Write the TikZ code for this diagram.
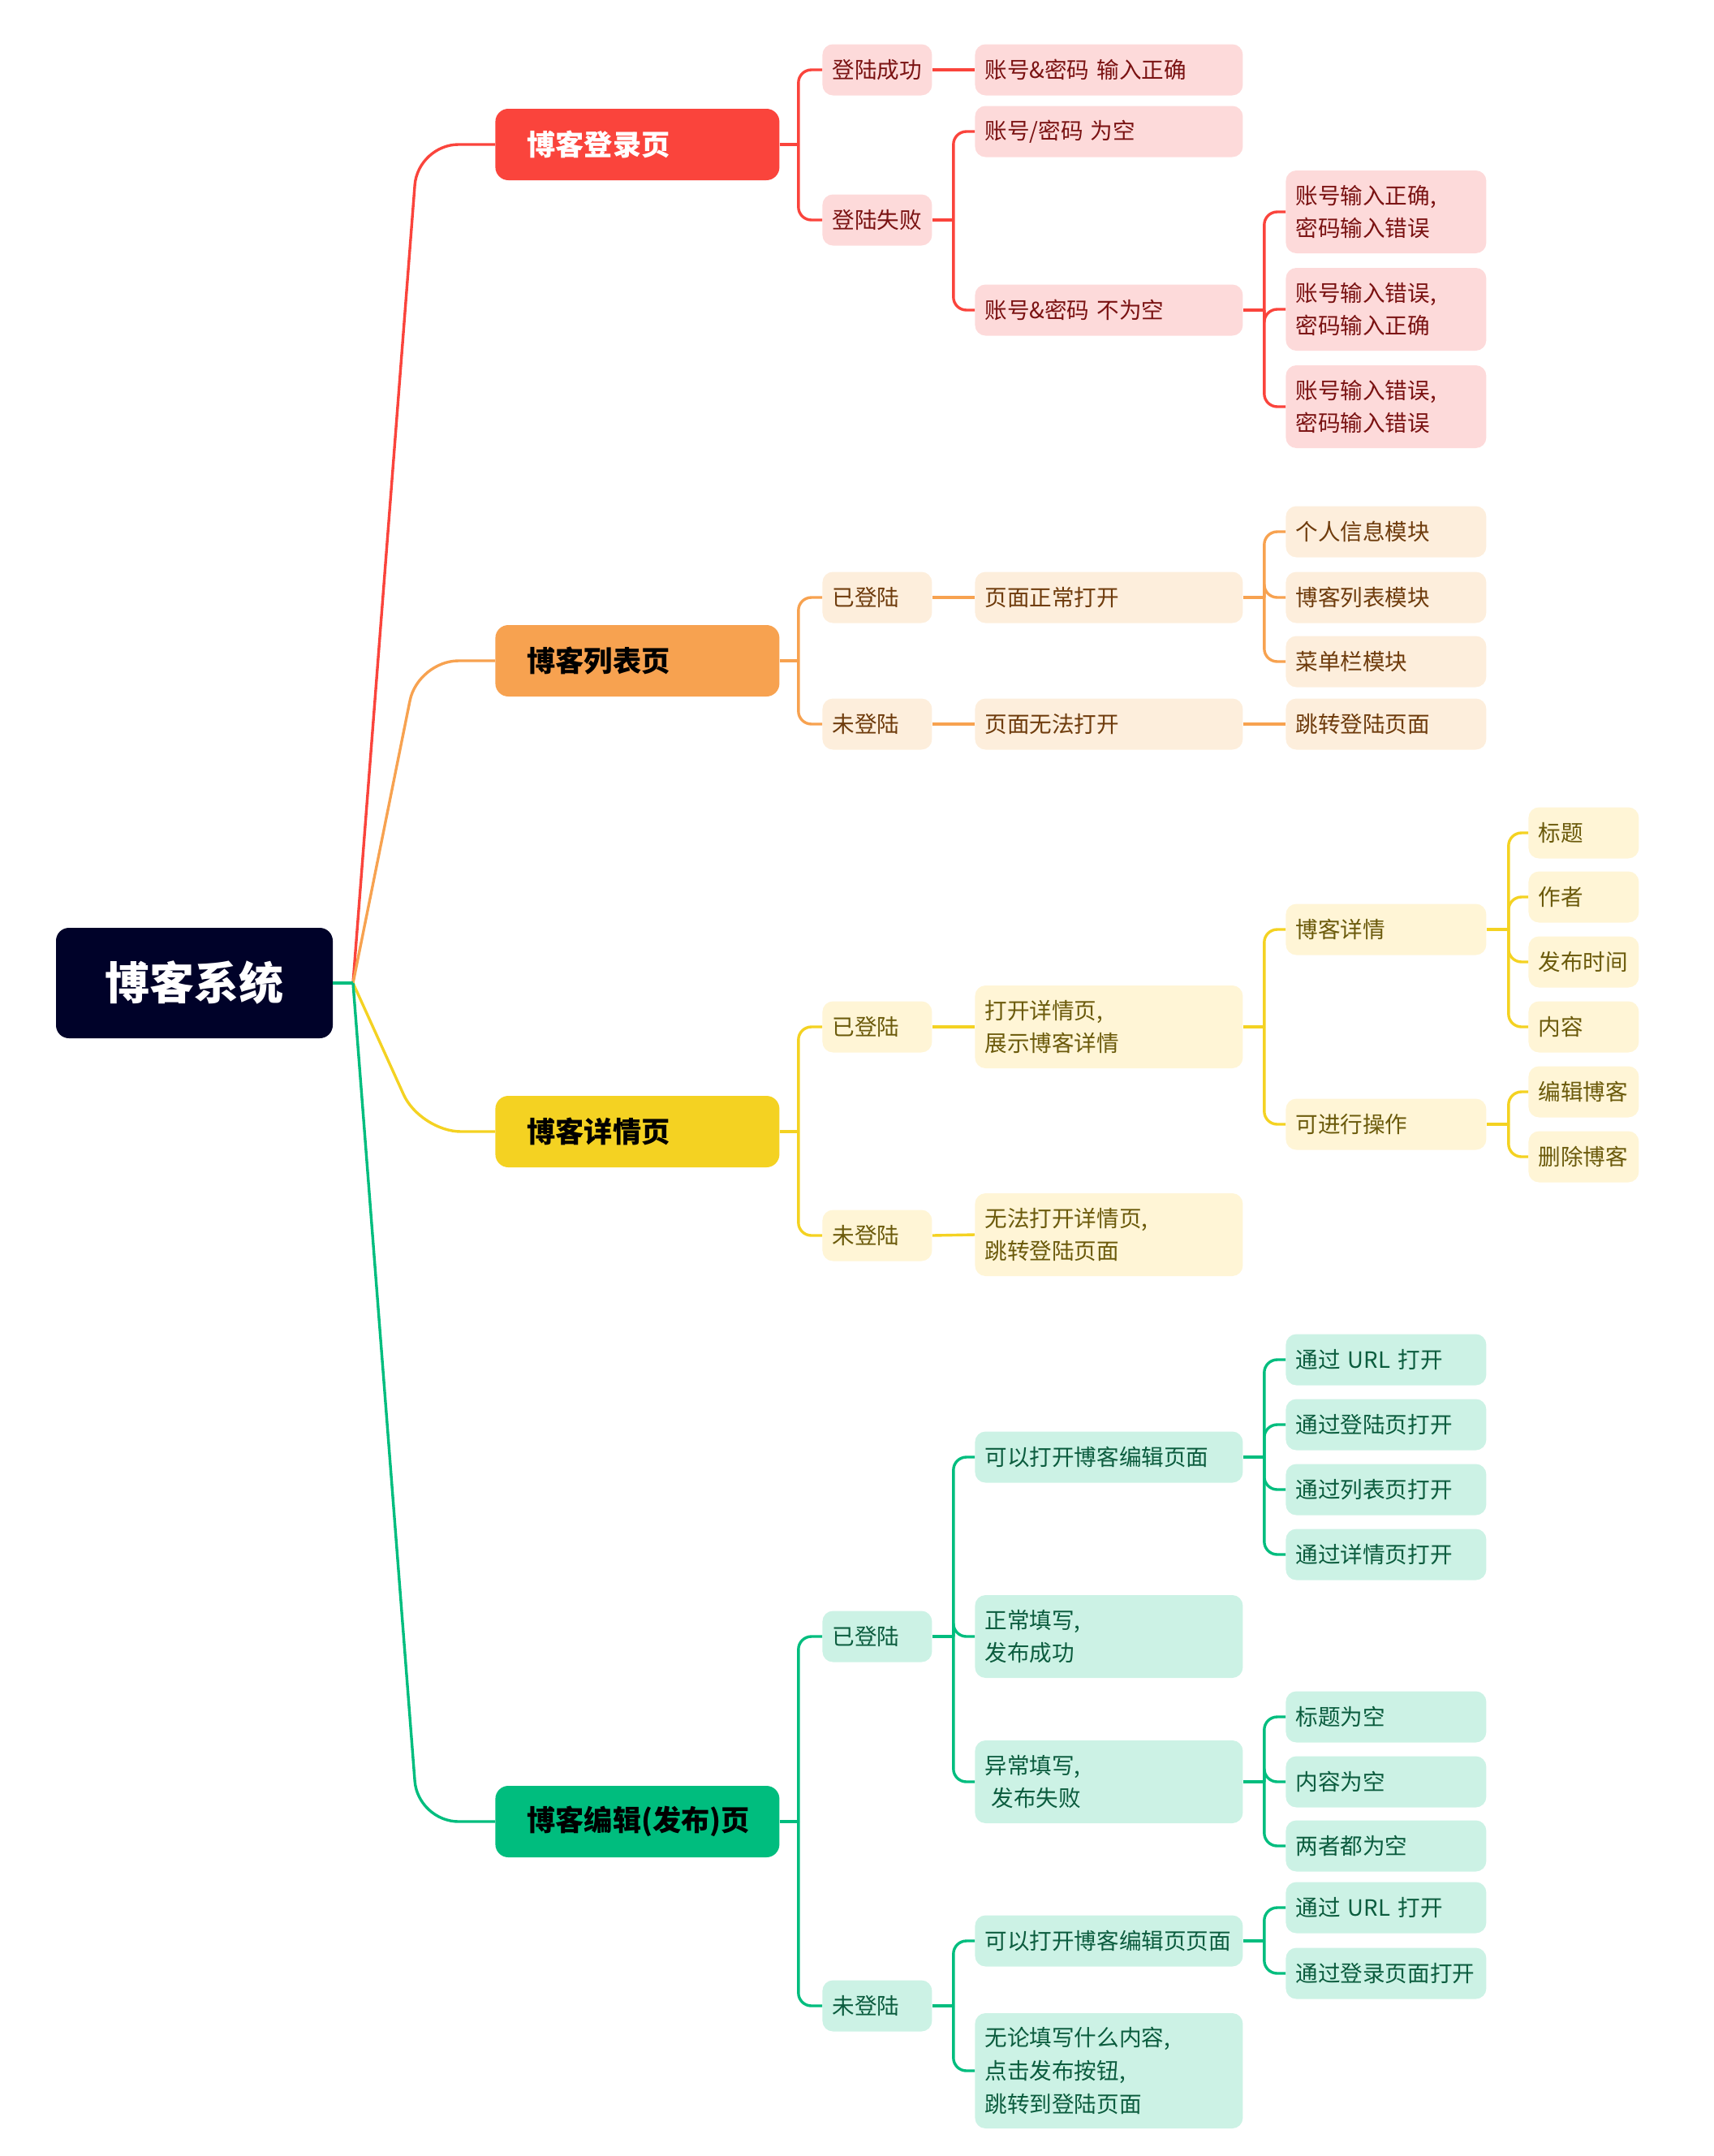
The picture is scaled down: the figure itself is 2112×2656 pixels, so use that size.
\documentclass[tikz,border=0pt]{standalone}
\usepackage{fontspec}
\newfontfamily\cjk[WordSpace=0.8]{Noto Sans CJK SC}
\definecolor{rootc}{HTML}{000229}
\definecolor{redm}{HTML}{FA443C}
\definecolor{orgm}{HTML}{F7A250}
\definecolor{yelm}{HTML}{F4D222}
\definecolor{grnm}{HTML}{00BD7E}
\definecolor{redl}{HTML}{FDDADA}
\definecolor{orgl}{HTML}{FDEEDC}
\definecolor{yell}{HTML}{FFF5D6}
\definecolor{grnl}{HTML}{CCF2E5}
\definecolor{redt}{HTML}{7A1212}
\definecolor{orgt}{HTML}{6E3B0C}
\definecolor{yelt}{HTML}{6B5A0B}
\definecolor{grnt}{HTML}{0B5C3E}
\tikzset{
  base/.style={rounded corners=6.5pt, anchor=west, align=left, inner ysep=0pt, inner xsep=6pt,
    font=\cjk\fontsize{13.8}{20.3}\selectfont},
  one/.style={minimum height=31.5pt},
  two/.style={minimum height=51pt},
  three/.style={minimum height=71pt},
  lv2/.style={base, one, text width=55.5pt},
  lv3/.style={base, one, text width=153pt},
  lv4/.style={base, one, text width=111.5pt},
  lv5/.style={base, one, text width=56pt},
  lv1/.style={rounded corners=8pt, anchor=west, align=left, inner ysep=0pt, inner xsep=19.5pt,
    text width=136pt, minimum height=44pt, font=\cjk\bfseries\fontsize{17.6}{20}\selectfont},
  rootbox/.style={rounded corners=8pt, fill=rootc, text=white, minimum width=170.5pt, minimum height=68pt,
    font=\cjk\bfseries\fontsize{27.5}{30}\selectfont},
  rs/.style={fill=redl, text=redt},
  os/.style={fill=orgl, text=orgt},
  ys/.style={fill=yell, text=yelt},
  gs/.style={fill=grnl, text=grnt},
  rl/.style={draw=redm, line width=1.7pt},
  ol/.style={draw=orgm, line width=1.7pt},
  yl/.style={draw=yelm, line width=1.7pt},
  gl/.style={draw=grnm, line width=1.7pt},
  elbow/.style={rounded corners=8pt},
  fan/.style={rounded corners=25pt},
}
\begin{document}
\begin{tikzpicture}[x=0.5pt, y=-0.5pt]
\useasboundingbox (0,0) rectangle (2112,2656);

% root
\node[rootbox] (root) at (239.5,1211) {博客系统};
\coordinate (J) at (435,1211);

% level 1
\node[lv1, fill=redm, text=white] (r) at (610,178) {博客登录页};
\node[lv1, fill=orgm, text=black] (o) at (610,814) {博客列表页};
\node[lv1, fill=yelm, text=black] (y) at (610,1394) {博客详情页};
\node[lv1, fill=grnm, text=black] (g) at (610,2244) {博客编辑(发布)页};

% red group
\node[lv2, rs] (r1) at (1013,86) {登陆成功};
\node[lv2, rs] (r2) at (1013,271) {登陆失败};
\node[lv3, rs] (r11) at (1201,86) {账号\&密码 输入正确};
\node[lv3, rs] (r21) at (1201,162) {账号/密码 为空};
\node[lv3, rs] (r22) at (1201,382) {账号\&密码 不为空};
\node[lv4, rs, two] (r221) at (1584,261) {账号输入正确,\\密码输入错误};
\node[lv4, rs, two] (r222) at (1584,381) {账号输入错误,\\密码输入正确};
\node[lv4, rs, two] (r223) at (1584,501) {账号输入错误,\\密码输入错误};

% orange group
\node[lv2, os] (o1) at (1013,736) {已登陆};
\node[lv2, os] (o2) at (1013,892) {未登陆};
\node[lv3, os] (o11) at (1201,736) {页面正常打开};
\node[lv3, os] (o21) at (1201,892) {页面无法打开};
\node[lv4, os] (o111) at (1584,655) {个人信息模块};
\node[lv4, os] (o112) at (1584,736) {博客列表模块};
\node[lv4, os] (o113) at (1584,815) {菜单栏模块};
\node[lv4, os] (o211) at (1584,892) {跳转登陆页面};

% yellow group
\node[lv2, ys] (y1) at (1013,1265) {已登陆};
\node[lv2, ys] (y2) at (1013,1522) {未登陆};
\node[lv3, ys, two] (y11) at (1201,1265) {打开详情页,\\展示博客详情};
\node[lv3, ys, two] (y21) at (1201,1521) {无法打开详情页,\\跳转登陆页面};
\node[lv4, ys] (y111) at (1584,1145) {博客详情};
\node[lv4, ys] (y112) at (1584,1385) {可进行操作};
\node[lv5, ys] (y1111) at (1883,1026) {标题};
\node[lv5, ys] (y1112) at (1883,1105) {作者};
\node[lv5, ys] (y1113) at (1883,1185) {发布时间};
\node[lv5, ys] (y1114) at (1883,1265) {内容};
\node[lv5, ys] (y1121) at (1883,1345) {编辑博客};
\node[lv5, ys] (y1122) at (1883,1425) {删除博客};

% green group
\node[lv2, gs] (g1) at (1013,2016) {已登陆};
\node[lv2, gs] (g2) at (1013,2471) {未登陆};
\node[lv3, gs] (g11) at (1201,1795) {可以打开博客编辑页面};
\node[lv3, gs, two] (g12) at (1201,2016) {正常填写,\\发布成功};
\node[lv3, gs, two] (g13) at (1201,2195) {异常填写,\\\hspace{0.3em}发布失败};
\node[lv4, gs] (g111) at (1584,1675) {通过 URL 打开};
\node[lv4, gs] (g112) at (1584,1755) {通过登陆页打开};
\node[lv4, gs] (g113) at (1584,1835) {通过列表页打开};
\node[lv4, gs] (g114) at (1584,1915) {通过详情页打开};
\node[lv4, gs] (g131) at (1584,2115) {标题为空};
\node[lv4, gs] (g132) at (1584,2195) {内容为空};
\node[lv4, gs] (g133) at (1584,2274) {两者都为空};
\node[lv3, gs] (g21) at (1201,2391) {可以打开博客编辑页页面};
\node[lv3, gs, three] (g22) at (1201,2551) {无论填写什么内容,\\点击发布按钮,\\跳转到登陆页面};
\node[lv4, gs] (g211) at (1584,2350) {通过 URL 打开};
\node[lv4, gs] (g212) at (1584,2431) {通过登录页面打开};

% root fan
\draw[rl, fan] (J) -- (515,178) -- (r.west);
\draw[ol, fan] (J) -- (515,814) -- (o.west);
\draw[yl, fan] (J) -- (518,1394) -- (y.west);
\draw[gl, fan] (J) -- (515,2244) -- (g.west);
\draw[gl] (root.east) -- (J);

% red connectors
\draw[rl] (r.east) -- ++(23,0) coordinate (r-s);
\draw[rl, elbow] (r-s) |- (r1.west);
\draw[rl, elbow] (r-s) |- (r2.west);
\draw[rl] (r1.east) -- (r11.west);
\draw[rl] (r2.east) -- ++(26,0) coordinate (r2-s);
\draw[rl, elbow] (r2-s) |- (r21.west);
\draw[rl, elbow] (r2-s) |- (r22.west);
\draw[rl] (r22.east) -- ++(26,0) coordinate (r22-s);
\draw[rl, elbow] (r22-s) |- (r221.west);
\draw[rl, elbow] (r22-s) |- (r222.west);
\draw[rl, elbow] (r22-s) |- (r223.west);

% orange connectors
\draw[ol] (o.east) -- ++(23,0) coordinate (o-s);
\draw[ol, elbow] (o-s) |- (o1.west);
\draw[ol, elbow] (o-s) |- (o2.west);
\draw[ol] (o1.east) -- (o11.west);
\draw[ol] (o2.east) -- (o21.west);
\draw[ol] (o11.east) -- ++(26,0) coordinate (o11-s);
\draw[ol, elbow] (o11-s) |- (o111.west);
\draw[ol, elbow] (o11-s) |- (o112.west);
\draw[ol, elbow] (o11-s) |- (o113.west);
\draw[ol] (o21.east) -- (o211.west);

% yellow connectors
\draw[yl] (y.east) -- ++(23,0) coordinate (y-s);
\draw[yl, elbow] (y-s) |- (y1.west);
\draw[yl, elbow] (y-s) |- (y2.west);
\draw[yl] (y1.east) -- (y11.west);
\draw[yl] (y2.east) -- (y21.west);
\draw[yl] (y11.east) -- ++(26,0) coordinate (y11-s);
\draw[yl, elbow] (y11-s) |- (y111.west);
\draw[yl, elbow] (y11-s) |- (y112.west);
\draw[yl] (y111.east) -- ++(27,0) coordinate (y111-s);
\draw[yl, elbow] (y111-s) |- (y1111.west);
\draw[yl, elbow] (y111-s) |- (y1112.west);
\draw[yl, elbow] (y111-s) |- (y1113.west);
\draw[yl, elbow] (y111-s) |- (y1114.west);
\draw[yl] (y112.east) -- ++(27,0) coordinate (y112-s);
\draw[yl, elbow] (y112-s) |- (y1121.west);
\draw[yl, elbow] (y112-s) |- (y1122.west);

% green connectors
\draw[gl] (g.east) -- ++(23,0) coordinate (g-s);
\draw[gl, elbow] (g-s) |- (g1.west);
\draw[gl, elbow] (g-s) |- (g2.west);
\draw[gl] (g1.east) -- ++(26,0) coordinate (g1-s);
\draw[gl, elbow] (g1-s) |- (g11.west);
\draw[gl, elbow] (g1-s) |- (g12.west);
\draw[gl, elbow] (g1-s) |- (g13.west);
\draw[gl] (g11.east) -- ++(26,0) coordinate (g11-s);
\draw[gl, elbow] (g11-s) |- (g111.west);
\draw[gl, elbow] (g11-s) |- (g112.west);
\draw[gl, elbow] (g11-s) |- (g113.west);
\draw[gl, elbow] (g11-s) |- (g114.west);
\draw[gl] (g13.east) -- ++(26,0) coordinate (g13-s);
\draw[gl, elbow] (g13-s) |- (g131.west);
\draw[gl, elbow] (g13-s) |- (g132.west);
\draw[gl, elbow] (g13-s) |- (g133.west);
\draw[gl] (g2.east) -- ++(26,0) coordinate (g2-s);
\draw[gl, elbow] (g2-s) |- (g21.west);
\draw[gl, elbow] (g2-s) |- (g22.west);
\draw[gl] (g21.east) -- ++(26,0) coordinate (g21-s);
\draw[gl, elbow] (g21-s) |- (g211.west);
\draw[gl, elbow] (g21-s) |- (g212.west);
\end{tikzpicture}
\end{document}
